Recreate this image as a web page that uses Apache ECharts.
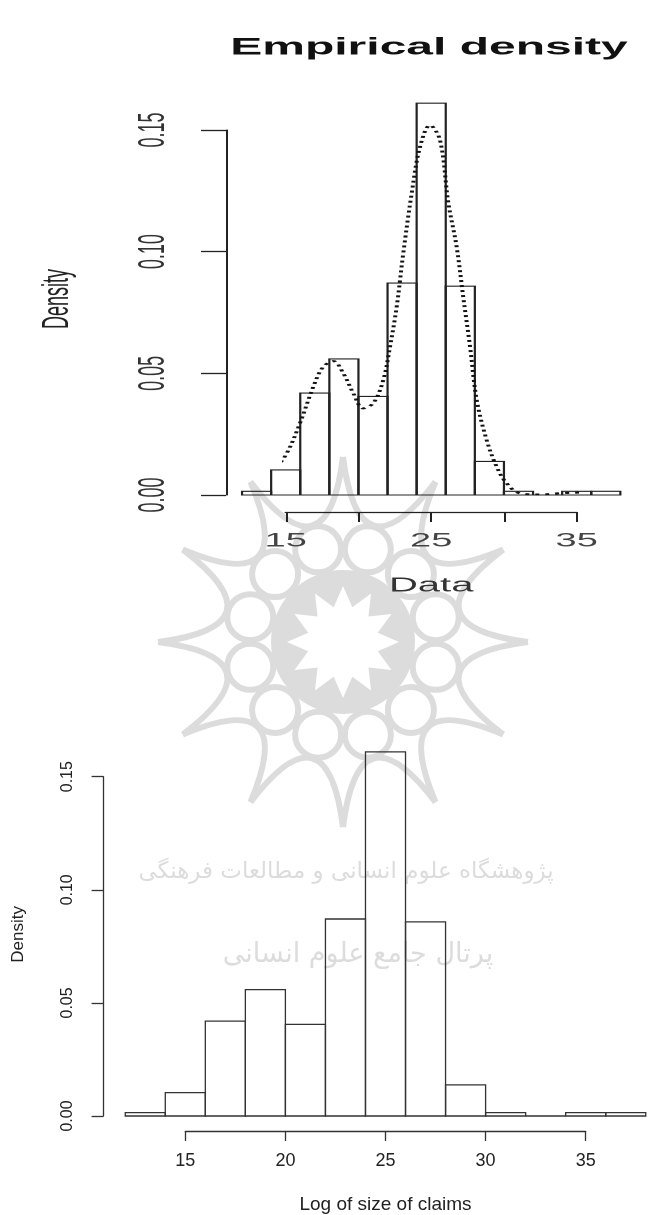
<!DOCTYPE html>
<html>
<head>
<meta charset="utf-8">
<script src="https://cdn.jsdelivr.net/npm/echarts@6/dist/echarts.min.js"></script>
<style>
  html, body { margin: 0; padding: 0; background: #ffffff; }
  body { width: 650px; height: 1215px; position: relative; overflow: hidden; }
  #top { position: absolute; left: 0; top: 0; width: 325px; height: 620px; transform: scaleX(2); transform-origin: 0 0; z-index: 2; }
  #bottom { position: absolute; left: 0; top: 420px; width: 650px; height: 795px; z-index: 1; }
</style>
</head>
<body>
<div id="top"></div>
<div id="bottom"></div>
<script>
// ---- data ----
const binEdges = [12, 14, 16, 18, 20, 22, 24, 26, 28, 30, 32, 34, 36, 38];
const binDensity = [0.0015, 0.0103, 0.0419, 0.0559, 0.0405, 0.0871, 0.161, 0.0858, 0.0138, 0.0015, 0, 0.0015, 0.0015];
const kdeX = [11.86, 13.23, 14.15, 15.07, 15.98, 16.9, 17.58, 18.27, 18.96, 19.65, 20.33, 21.02, 21.71, 22.17, 22.63, 23.08, 23.66, 24.23, 24.92, 25.6, 26.18, 26.75, 27.2, 27.67, 28.13, 28.81, 29.5, 30.19, 31.1, 32.48, 34.06, 36.14, 38.2];
const kdeY = [0.0002, 0.0028, 0.0096, 0.0171, 0.0295, 0.0445, 0.0527, 0.0550, 0.0500, 0.0418, 0.0356, 0.0377, 0.0473, 0.0610, 0.0774, 0.0993, 0.1240, 0.1430, 0.1520, 0.1460, 0.1200, 0.1020, 0.0815, 0.0610, 0.0390, 0.0226, 0.0116, 0.0048, 0.0007, 0.0002, 0.0008, 0.0010, 0.0007];
const xAxisMin = 15, xAxisMax = 35, xAxisStep = 5;
const yAxisMin = 0, yAxisMax = 0.15, yAxisStep = 0.05;
const topXLabels = [15, 25, 35];
const topTitle = 'Empirical density';
const topXName = 'Data';
const bottomXName = 'Log of size of claims';
const yName = 'Density';
const watermark1 = 'پژوهشگاه علوم انسانی و مطالعات فرهنگی';
const watermark2 = 'پرتال جامع علوم انسانی';

const histData = binDensity.map((d, i) => [binEdges[i], binEdges[i + 1], d]);
const kdeData = kdeX.map((x, i) => [x, kdeY[i]]);

function histSeries(lineColor, lw) {
  return {
    type: 'custom',
    clip: false,
    z: 3,
    data: histData,
    encode: { x: [0, 1], y: 2 },
    renderItem: function (params, api) {
      const p0 = api.coord([api.value(0), api.value(2)]);
      const p1 = api.coord([api.value(1), 0]);
      return {
        type: 'rect',
        shape: { x: p0[0], y: p0[1], width: p1[0] - p0[0], height: p1[1] - p0[1] },
        style: { fill: 'rgba(0,0,0,0)', stroke: lineColor, lineWidth: lw }
      };
    }
  };
}

const FONT = 'Liberation Sans, Arial, Helvetica, sans-serif';
const WM = '#dcdcdc';

// ---- decorative watermark rosette (background, not data) ----
function rosetteElements() {
  const R = 185, C = 62, n = 12;
  const children = [];
  for (let k = 0; k < n; k++) {
    const a0 = k * Math.PI * 2 / n, a1 = (k + 1) * Math.PI * 2 / n, am = (a0 + a1) / 2;
    children.push({
      type: 'bezierCurve',
      shape: { x1: R * Math.cos(a0), y1: R * Math.sin(a0), x2: R * Math.cos(a1), y2: R * Math.sin(a1),
        cpx1: C * Math.cos(am), cpy1: C * Math.sin(am) },
      style: { fill: 'none', stroke: WM, lineWidth: 6 }
    });
  }
  children.push({ type: 'circle', shape: { cx: 0, cy: 0, r: 72 }, style: { fill: WM } });
  const pts = [];
  const m = 12;
  for (let k = 0; k < 2 * m; k++) {
    const a = k * Math.PI / m + Math.PI / 2;
    const r = k % 2 === 0 ? 56 : 36;
    pts.push([r * Math.cos(a), r * Math.sin(a)]);
  }
  children.push({ type: 'polygon', shape: { points: pts }, style: { fill: '#fff' } });
  for (let k = 0; k < 12; k++) {
    const a = (k + 0.5) * Math.PI / 6;
    children.push({ type: 'circle', shape: { cx: 96 * Math.cos(a), cy: 96 * Math.sin(a), r: 23 },
      style: { fill: '#fff', stroke: WM, lineWidth: 6 } });
  }
  return children;
}

// ---- top chart (horizontally stretched like the scanned original) ----
const topChart = echarts.init(document.getElementById('top'), null, { renderer: 'canvas', devicePixelRatio: 2 });
topChart.setOption({
  animation: false,
  backgroundColor: 'transparent',
  title: {
    text: topTitle,
    left: 214.5, top: 36, padding: 0, textAlign: 'center',
    textStyle: { fontFamily: FONT, fontSize: 24, fontWeight: 'bold', color: '#111' }
  },
  grid: { left: 142.85, right: 36.65, top: 130, bottom: 125, containLabel: false },
  xAxis: {
    type: 'value', min: xAxisMin, max: xAxisMax, interval: xAxisStep, offset: 17,
    splitLine: { show: false },
    axisLine: { show: true, onZero: false, lineStyle: { color: '#222', width: 1.2 } },
    axisTick: { show: true, length: 10, lineStyle: { color: '#222', width: 1 } },
    axisLabel: { margin: 20, fontFamily: FONT, fontSize: 19, color: '#444',
      formatter: v => (topXLabels.indexOf(v) >= 0 ? String(v) : '') },
    name: topXName, nameLocation: 'middle', nameGap: 64,
    nameTextStyle: { fontFamily: FONT, fontSize: 20, color: '#333' }
  },
  yAxis: {
    type: 'value', min: yAxisMin, max: yAxisMax, interval: yAxisStep, offset: 29.85,
    splitLine: { show: false },
    axisLine: { show: true, onZero: false, lineStyle: { color: '#222', width: 1 } },
    axisTick: { show: true, length: 12.5, lineStyle: { color: '#222', width: 1.3 } },
    axisLabel: { rotate: 90, margin: 27, fontFamily: FONT, fontSize: 18, color: '#333',
      formatter: v => v.toFixed(2) },
    name: yName, nameLocation: 'middle', nameGap: 75,
    nameTextStyle: { fontFamily: FONT, fontSize: 18, color: '#222', padding: [0, 0, 0, 27] }
  },
  series: [
    histSeries('#222', 1.1),
    {
      type: 'line', data: kdeData, clip: false, smooth: 0.35, symbol: 'none', z: 4,
      lineStyle: { color: '#111', width: 2, type: [2, 3] }
    }
  ]
});

// ---- bottom chart ----
const bottomChart = echarts.init(document.getElementById('bottom'), null, { renderer: 'canvas' });
bottomChart.setOption({
  animation: false,
  backgroundColor: 'transparent',
  graphic: [
    { type: 'group', x: 343, y: 222, z: 0, silent: true, children: rosetteElements() },
    { type: 'text', x: 346, y: 452, z: 0, silent: true,
      style: { text: watermark1, align: 'center', verticalAlign: 'middle',
        fontFamily: 'DejaVu Sans, Noto Sans, sans-serif', fontSize: 23, fill: WM } },
    { type: 'text', x: 358, y: 535, z: 0, silent: true,
      style: { text: watermark2, align: 'center', verticalAlign: 'middle',
        fontFamily: 'DejaVu Sans, Noto Sans, sans-serif', fontSize: 27, fill: WM } }
  ],
  grid: { left: 185.3, right: 64.3, top: 356.7, bottom: 97.3, containLabel: false },
  xAxis: {
    type: 'value', min: xAxisMin, max: xAxisMax, interval: xAxisStep, offset: 15,
    splitLine: { show: false },
    axisLine: { show: true, onZero: false, lineStyle: { color: '#333', width: 1.3 } },
    axisTick: { show: true, length: 10, lineStyle: { color: '#333', width: 1.3 } },
    axisLabel: { margin: 21, fontFamily: FONT, fontSize: 18, color: '#222' },
    name: bottomXName, nameLocation: 'middle', nameGap: 64,
    nameTextStyle: { fontFamily: FONT, fontSize: 19, color: '#222' }
  },
  yAxis: {
    type: 'value', min: yAxisMin, max: yAxisMax, interval: yAxisStep, offset: 82,
    splitLine: { show: false },
    axisLine: { show: true, onZero: false, lineStyle: { color: '#333', width: 1.3 } },
    axisTick: { show: true, length: 11.7, lineStyle: { color: '#333', width: 1.3 } },
    axisLabel: { rotate: 90, margin: 28, fontFamily: FONT, fontSize: 16, color: '#222',
      formatter: v => v.toFixed(2) },
    name: yName, nameLocation: 'middle', nameGap: 76,
    nameTextStyle: { fontFamily: FONT, fontSize: 17, color: '#222', padding: [0, 0, 0, 24] }
  },
  series: [ histSeries('#333', 1.3) ]
});
</script>
</body>
</html>
